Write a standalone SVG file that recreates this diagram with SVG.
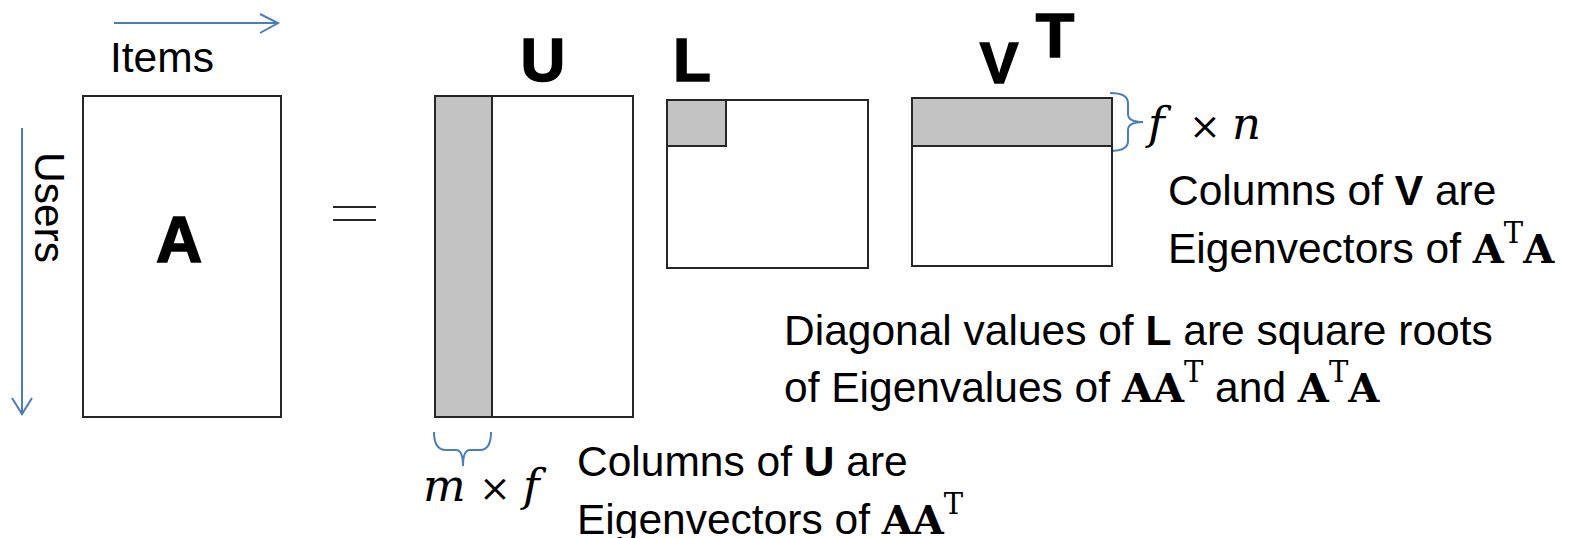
<svg xmlns="http://www.w3.org/2000/svg" width="1577" height="538" viewBox="0 0 1577 538">
  <style>
    .mat { fill: #ffffff; stroke: #262626; stroke-width: 2; }
    .shade { fill: #c3c3c3; stroke: #262626; stroke-width: 2; }
    .body { font-family: "Liberation Sans", Arial, sans-serif; font-size: 42.5px; fill: #000; }
    .b { font-weight: bold; }
    .lbl { font-family: "Liberation Sans", Arial, sans-serif; font-weight: bold; fill: #000; stroke: #000; stroke-width: 1.5; }
    .mb { font-family: "DejaVu Serif", serif; font-weight: bold; font-size: 40px; }
    .sup { font-family: "DejaVu Serif", serif; font-weight: normal; font-size: 29px; }
    .mi { font-family: "DejaVu Serif", serif; font-style: italic; font-size: 45px; fill: #000; }
    .mo { font-family: "DejaVu Serif", serif; font-style: normal; font-size: 38px; fill: #000; }
    .blue { fill: none; stroke: #4a7ebb; stroke-width: 2; }
  </style>

  <!-- axis arrows and braces -->
  <g id="connectors">
    <path class="blue" d="M114,23 H278 M260,14 L278,23 L260,33"/>
    <path class="blue" d="M22,128 V414 M12,398 L22,414 L32,398"/>
    <path class="blue" d="M1110,93 Q1128,93 1128,103 L1128,114 Q1128,122 1143,122 Q1128,122 1128,130 L1128,141 Q1128,151 1110,151"/>
    <path class="blue" d="M434,432 Q434,450 446,450 L456,450 Q463,450 463,466 Q463,450 470,450 L480,450 Q491,450 491,432"/>
  </g>

  <!-- input matrix -->
  <g id="node-A">
    <rect class="mat" x="83" y="96" width="198" height="321"/>
    <text class="lbl" x="179" y="262" font-size="64" text-anchor="middle">A</text>
    <text class="body" x="110" y="72">Items</text>
    <text class="body" transform="translate(35,152) rotate(90)">Users</text>
  </g>

  <g id="equals">
    <path d="M333,207 H376 M333,220 H376" stroke="#262626" stroke-width="2" fill="none"/>
  </g>

  <!-- left singular vectors -->
  <g id="node-U">
    <rect class="mat" x="435" y="96" width="198" height="321"/>
    <rect class="shade" x="435" y="96" width="57" height="321"/>
    <text class="lbl" x="543" y="81" font-size="62" text-anchor="middle">U</text>
    <text class="mi" y="501"><tspan x="423">m</tspan><tspan class="mo" x="479">×</tspan><tspan x="523">f</tspan></text>
    <text class="body" x="577" y="476">Columns of <tspan class="b">U</tspan> are</text>
    <text class="body" x="577" y="534">Eigenvectors of <tspan class="mb">AA</tspan><tspan class="sup" dy="-20">T</tspan></text>
  </g>

  <!-- singular values -->
  <g id="node-L">
    <rect class="mat" x="667" y="100" width="201" height="168"/>
    <rect class="shade" x="667" y="100" width="59" height="46"/>
    <text class="lbl" x="673" y="81" font-size="62">L</text>
    <text class="body" x="784" y="345">Diagonal values of <tspan class="b">L</tspan> are square roots</text>
    <text class="body" x="784" y="402">of Eigenvalues of <tspan class="mb">AA</tspan><tspan class="sup" dy="-20">T</tspan><tspan dy="20"> and </tspan><tspan class="mb">A</tspan><tspan class="sup" dy="-20">T</tspan><tspan class="mb" dy="20">A</tspan></text>
  </g>

  <!-- right singular vectors, transposed -->
  <g id="node-VT">
    <rect class="mat" x="912" y="98" width="200" height="168"/>
    <rect class="shade" x="912" y="98" width="200" height="48"/>
    <text class="lbl" x="999" y="83" font-size="58" text-anchor="middle">V</text>
    <text class="lbl" x="1055" y="57" font-size="63" text-anchor="middle">T</text>
    <text class="mi" y="139"><tspan x="1148">f</tspan><tspan class="mo" x="1189">×</tspan><tspan x="1232">n</tspan></text>
    <text class="body" x="1168" y="205">Columns of <tspan class="b">V</tspan> are</text>
    <text class="body" x="1168" y="263">Eigenvectors of <tspan class="mb">A</tspan><tspan class="sup" dy="-20">T</tspan><tspan class="mb" dy="20">A</tspan></text>
  </g>
</svg>
